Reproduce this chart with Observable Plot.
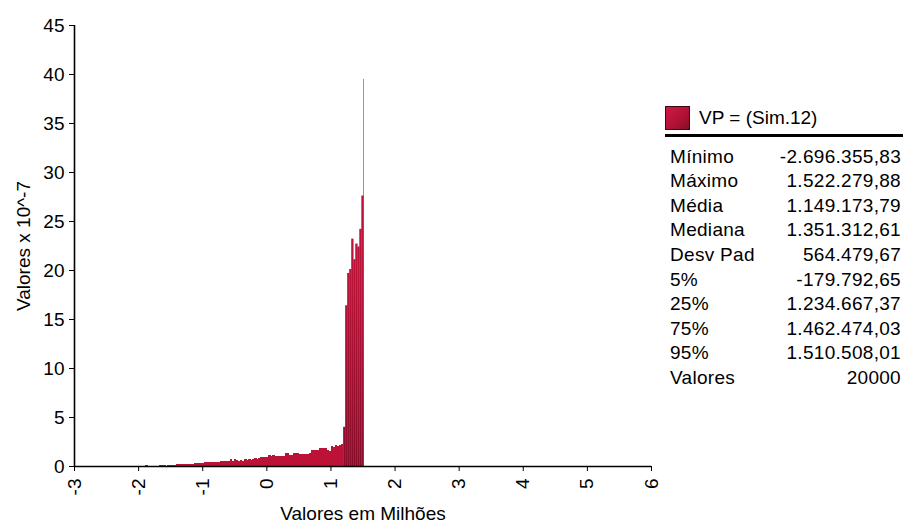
<!DOCTYPE html>
<html>
<head>
<meta charset="utf-8">
<script src="https://cdn.jsdelivr.net/npm/d3@7"></script>
<script src="https://cdn.jsdelivr.net/npm/@observablehq/plot@0.6"></script>
<style>
  body { margin: 0; background: #fff; }
  #wrap { position: relative; width: 907px; height: 524px; font-family: "Liberation Sans", Arial, sans-serif; color: #000; }
  #legend { position: absolute; left: 0; top: 0; width: 907px; height: 524px; pointer-events: none; }
  .sw { position: absolute; left: 665px; top: 106px; width: 23px; height: 22px; border: 1px solid #3a0612;
        background: linear-gradient(135deg, #cc1a42 0%, #b21236 55%, #850d28 100%); }
  .hdr { position: absolute; left: 699px; top: 105px; font-size: 19px; line-height: 26px; white-space: nowrap; }
  .rule { position: absolute; left: 665px; top: 134px; width: 238px; height: 2.5px; background: #000; }
  .lab { position: absolute; left: 670px; font-size: 19px; line-height: 24px; white-space: nowrap; letter-spacing: 0.3px; }
  .val { position: absolute; right: 6px; font-size: 19px; line-height: 24px; white-space: nowrap; text-align: right; letter-spacing: 0.3px; }
</style>
</head>
<body>
<div id="wrap"><div id="legend"></div></div>
<script>
// ---- data (values in millions on x, density x 10^-7 on y) ----
const binOrigin = -1.889;
const binWidth = 0.0315;
const density = [
  0.1, 0, 0, 0, 0, 0, 0, 0.1, 0.1, 0.12,
  0, 0.1, 0.12, 0.12, 0.15, 0.18, 0.2, 0.2, 0.2, 0.2,
  0.22, 0.2, 0.2, 0.2, 0.35, 0.28, 0.3, 0.28, 0.3, 0.45,
  0.36, 0.4, 0.42, 0.4, 0.4, 0.42, 0.4, 0.5, 0.48, 0.5,
  0.52, 0.55, 0.7, 0.55, 0.68, 0.6, 0.55, 0.58, 0.56, 0.68,
  0.66, 0.7, 0.65, 0.72, 0.77, 0.75, 0.8, 0.92, 0.95, 0.9,
  0.88, 1.09, 1.05, 1.1, 1.0, 1.02, 0.98, 1.0, 1.05, 1.3,
  1.28, 1.1, 1.12, 1.36, 1.3, 1.35, 1.2, 1.22, 1.18, 1.25,
  1.2, 1.3, 1.64, 1.6, 1.62, 1.66, 1.84, 1.8, 1.86, 1.82,
  1.6, 1.58, 2.0, 1.95, 2.1, 2.05, 2.15, 2.2, 4.0, 16.4,
  19.7, 20.1, 23.2, 21.1, 22.7, 22.4, 24.2, 27.6, 39.5
];
const xTicks = [-3, -2, -1, 0, 1, 2, 3, 4, 5, 6];
const yTicks = [0, 5, 10, 15, 20, 25, 30, 35, 40, 45];
const xLabel = "Valores em Milhões";
const yLabel = "Valores x 10^-7";
const seriesName = "VP = (Sim.12)";
const statLabels = ["Mínimo", "Máximo", "Média", "Mediana", "Desv Pad", "5%", "25%", "75%", "95%", "Valores"];
const statValues = ["-2.696.355,83", "1.522.279,88", "1.149.173,79", "1.351.312,61", "564.479,67",
                    "-179.792,65", "1.234.667,37", "1.462.474,03", "1.510.508,01", "20000"];

// ---- derived table (bars overlap slightly to avoid hairline seams) ----
const maxValue = +statValues[1].replace(/\./g, "").replace(",", ".") / 1e6;
const bins = density.map((d, i) => ({
  x1: binOrigin + i * binWidth,
  x2: Math.min(binOrigin + (i + 1.15) * binWidth, maxValue),
  y: d
}));

const chart = Plot.plot({
  width: 907,
  height: 524,
  marginLeft: 74,
  marginRight: 256,
  marginTop: 25,
  marginBottom: 58,
  style: { fontFamily: "'Liberation Sans', Arial, sans-serif", fontSize: "19px", color: "#000", background: "transparent" },
  x: { domain: [-3, 6] },
  y: { domain: [0, 45] },
  marks: [
    Plot.rect(bins, { filter: d => d.y < 3, x1: "x1", x2: "x2", y1: d => 0, y2: "y", fill: "#bd1238", inset: 0, shapeRendering: "crispEdges" }),
    Plot.rect(bins, { filter: d => d.y >= 3, x1: "x1", x2: "x2", y1: d => 0, y2: "y", fill: "url(#blockGrad)", inset: 0 }),
    Plot.ruleY([0], { stroke: "#000", strokeWidth: 1.6 }),
    Plot.ruleX([-3], { stroke: "#000", strokeWidth: 1.6 }),
    Plot.axisY({ ticks: yTicks, tickSize: 5, tickPadding: 5, tickFormat: d => String(d),
                 label: yLabel, labelAnchor: "center", labelArrow: "none", labelOffset: 58 }),
    Plot.axisX({ ticks: xTicks, tickSize: 5, tickPadding: 7, tickRotate: -90, tickFormat: d => String(d),
                 label: xLabel, labelAnchor: "center", labelArrow: "none", labelOffset: 53 })
  ]
});

const defs = d3.select(chart).insert("defs", ":first-child");
const grad = defs.append("linearGradient").attr("id", "blockGrad")
  .attr("gradientUnits", "userSpaceOnUse")
  .attr("x1", 0).attr("y1", 80).attr("x2", 0).attr("y2", 466);
grad.append("stop").attr("offset", "0%").attr("stop-color", "#cc173f");
grad.append("stop").attr("offset", "55%").attr("stop-color", "#b81338");
grad.append("stop").attr("offset", "100%").attr("stop-color", "#870d29");

document.getElementById("wrap").insertBefore(chart, document.getElementById("legend"));
chart.style.position = "absolute";
chart.style.left = "0px";
chart.style.top = "0px";

// ---- legend / stats table ----
const lg = d3.select("#legend");
lg.append("div").attr("class", "sw");
lg.append("div").attr("class", "hdr").text(seriesName);
lg.append("div").attr("class", "rule");
const rowTop = 144.5, rowStep = 24.6;
statLabels.forEach((s, i) => {
  lg.append("div").attr("class", "lab").style("top", (rowTop + i * rowStep) + "px").text(s);
  lg.append("div").attr("class", "val").style("top", (rowTop + i * rowStep) + "px").text(statValues[i]);
});
</script>
</body>
</html>
